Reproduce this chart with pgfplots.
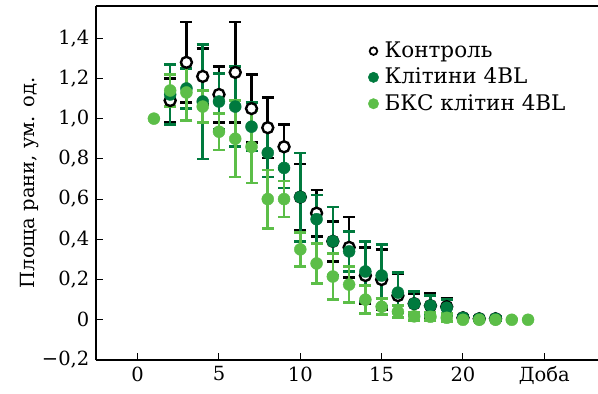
\documentclass[border=0pt]{standalone}
\usepackage{pgfplots}
\pgfplotsset{compat=1.18}
\usepackage{fontspec}
\setmainfont{DejaVu Serif}
\definecolor{dkg}{RGB}{0,122,62}
\definecolor{ltg}{RGB}{92,190,72}
\begin{document}
\fontsize{19.5bp}{23bp}\selectfont
\begin{tikzpicture}
\path[use as bounding box] (-96bp,-34bp) rectangle (502bp,360bp);
\begin{axis}[
  scale only axis, width=502bp, height=354bp,
  xmin=-2.56, xmax=28.3, ymin=-0.2, ymax=1.56,
  axis x line*=bottom, axis y line*=left,
  axis line style={line width=1.2bp, -},
  tick align=inside, major tick length=7bp,
  tick style={line width=1bp, black},
  xtick={0,5,10,15,20,25},
  xticklabels={0,5,10,15,20,Доба},
  ytick={-0.2,0,0.2,0.4,0.6,0.8,1.0,1.2,1.4},
  yticklabels={{−0,2},{0},{0,2},{0,4},{0,6},{0,8},{1,0},{1,2},{1,4}},
  /pgf/number format/assume math mode=true,
  ticklabel style={font=\fontsize{19.5bp}{23bp}\selectfont},
  ylabel={Площа рани, ум. од.},
  every axis y label/.style={at={(axis description cs:-0.1315,0.5)}, rotate=90, anchor=center, font=\fontsize{19.5bp}{23bp}\selectfont},
  legend style={at={(axis description cs:0.542,0.905)}, anchor=north west, draw=none, fill=none, font=\fontsize{21.5bp}{25bp}\selectfont, row sep=3.5bp, inner sep=0pt},
  legend cell align=left,
  clip=false,
]
\draw[line width=1.2bp] (rel axis cs:0,1) -- (rel axis cs:1,1);
% Control
\addplot[forget plot, only marks, mark=*, mark size=5.5bp, mark options={fill=white, draw=black, line width=2.4bp},
  error bars/.cd, y dir=both, y explicit,
  error bar style={line width=2.6bp, black},
  error mark=-,
  error mark options={rotate=90, mark size=6bp, line width=2.6bp, black}]
coordinates {
(2,1.09) +- (0,0.11)
(3,1.28) +- (0,0.20)
(4,1.21) +- (0,0.14)
(5,1.12) +- (0,0.14)
(6,1.23) +- (0,0.25)
(7,1.05) +- (0,0.17)
(8,0.955) +- (0,0.15)
(9,0.86) +- (0,0.11)
(10,0.61) +- (0,0.165)
(11,0.53) +- (0,0.115)
(12,0.39) +- (0,0.10)
(13,0.36) +- (0,0.15)
(14,0.22) +- (0,0.14)
(15,0.20) +- (0,0.15)
(16,0.12) +- (0,0.11)
(17,0.08) +- (0,0.05)
(18,0.07) +- (0,0.06)
(19,0.065) +- (0,0.04)
(20,0.01) +- (0,0.01)
(21,0.005) +- (0,0.01)
(22,0.005) +- (0,0.01)
};
% Cells 4BL
\addplot[forget plot, only marks, mark=*, mark size=6bp, mark options={fill=dkg, draw=dkg},
  error bars/.cd, y dir=both, y explicit,
  error bar style={line width=2.6bp, dkg},
  error mark=-,
  error mark options={rotate=90, mark size=6bp, line width=2.6bp, dkg}]
coordinates {
(2,1.12) +- (0,0.15)
(3,1.15) +- (0,0.10)
(4,1.085) +- (0,0.285)
(5,1.085) +- (0,0.14)
(6,1.06) +- (0,0.20)
(7,0.96) +- (0,0.12)
(8,0.83) +- (0,0.12)
(9,0.755) +- (0,0.10)
(10,0.61) +- (0,0.22)
(11,0.50) +- (0,0.12)
(12,0.39) +- (0,0.17)
(13,0.34) +- (0,0.10)
(14,0.24) +- (0,0.15)
(15,0.22) +- (0,0.155)
(16,0.135) +- (0,0.10)
(17,0.08) +- (0,0.06)
(18,0.07) +- (0,0.05)
(19,0.06) +- (0,0.04)
(20,0.01) +- (0,0.01)
(21,0.005) +- (0,0.01)
(22,0.005) +- (0,0.01)
};
% BKS cells 4BL
\addplot[forget plot, only marks, mark=*, mark size=6bp, mark options={fill=ltg, draw=ltg},
  error bars/.cd, y dir=both, y explicit,
  error bar style={line width=2.6bp, ltg},
  error mark=-,
  error mark options={rotate=90, mark size=6bp, line width=2.6bp, ltg}]
coordinates {
(1,1.0) +- (0,0)
(2,1.14) +- (0,0.08)
(3,1.13) +- (0,0.14)
(4,1.06) +- (0,0.08)
(5,0.935) +- (0,0.09)
(6,0.90) +- (0,0.19)
(7,0.86) +- (0,0.18)
(8,0.60) +- (0,0.145)
(9,0.60) +- (0,0.09)
(10,0.35) +- (0,0.085)
(11,0.28) +- (0,0.10)
(12,0.215) +- (0,0.115)
(13,0.175) +- (0,0.09)
(14,0.10) +- (0,0.07)
(15,0.065) +- (0,0.04)
(16,0.04) +- (0,0.03)
(17,0.017) +- (0,0.02)
(18,0.015) +- (0,0.02)
(19,0.01) +- (0,0.02)
(20,0) +- (0,0)
(21,0) +- (0,0)
(22,0) +- (0,0)
(23,0) +- (0,0)
(24,0) +- (0,0)
};
\addlegendimage{only marks, mark=*, mark size=3.8bp, mark options={fill=white, draw=black, line width=1.8bp}}
\addlegendentry{\hspace{4bp}Контроль}
\addlegendimage{only marks, mark=*, mark size=5.2bp, mark options={fill=dkg, draw=dkg}}
\addlegendentry{\hspace{4bp}Клітини 4BL}
\addlegendimage{only marks, mark=*, mark size=5.2bp, mark options={fill=ltg, draw=ltg}}
\addlegendentry{\hspace{4bp}БКС клітин 4BL}
\end{axis}
\end{tikzpicture}
\end{document}
